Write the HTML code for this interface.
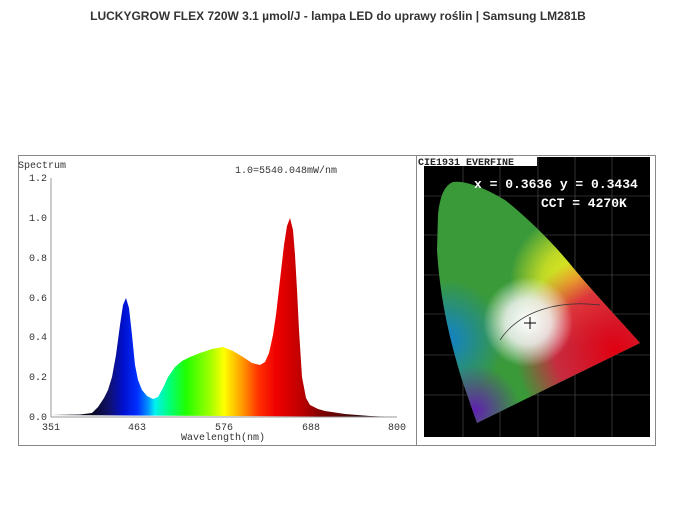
<!DOCTYPE html>
<html><head><meta charset="utf-8"><style>
body{margin:0;width:676px;height:524px;background:#fff;overflow:hidden;font-family:"Liberation Sans",sans-serif}
.t{position:absolute;top:9px;left:0;width:676px;text-align:center;font-size:12px;font-weight:bold;color:#333}
</style></head><body>
<div class="t">LUCKYGROW FLEX 720W 3.1 µmol/J - lampa LED do uprawy roślin | Samsung LM281B</div>
<svg width="676" height="524" style="position:absolute;left:0;top:0" font-family="Liberation Mono, monospace">
<defs>
<linearGradient id="sp" gradientUnits="userSpaceOnUse" x1="51" x2="397" y1="0" y2="0">
<stop offset="0" stop-color="#000"/>
<stop offset="0.12" stop-color="#080820"/>
<stop offset="0.17" stop-color="#101070"/>
<stop offset="0.21" stop-color="#0010d0"/>
<stop offset="0.25" stop-color="#0030ff"/>
<stop offset="0.28" stop-color="#0090ff"/>
<stop offset="0.3" stop-color="#00f0f0"/>
<stop offset="0.34" stop-color="#00ff80"/>
<stop offset="0.39" stop-color="#20ff00"/>
<stop offset="0.46" stop-color="#a0ff00"/>
<stop offset="0.5" stop-color="#ffff00"/>
<stop offset="0.55" stop-color="#ffa000"/>
<stop offset="0.6" stop-color="#ff3000"/>
<stop offset="0.65" stop-color="#f00000"/>
<stop offset="0.72" stop-color="#c00000"/>
<stop offset="0.78" stop-color="#800000"/>
<stop offset="0.9" stop-color="#301010"/>
<stop offset="1" stop-color="#000"/>
</linearGradient>
<clipPath id="hs"><path d="M453,182 C445,185 440,195 438,215 L437,250 C440,300 450,340 462,380 L477,423 L640,343 C620,320 600,300 575,270 C555,245 530,220 505,200 C485,188 465,180 453,182Z"/></clipPath>
<radialGradient id="wh" cx="528" cy="322" r="45" gradientUnits="userSpaceOnUse"><stop offset="0" stop-color="#fff"/><stop offset="0.5" stop-color="#f4f4f4" stop-opacity="0.85"/><stop offset="1" stop-color="#fff" stop-opacity="0"/></radialGradient>
<radialGradient id="rd" cx="615" cy="350" r="100" gradientUnits="userSpaceOnUse"><stop offset="0" stop-color="#e00010"/><stop offset="0.6" stop-color="#e01840" stop-opacity="0.85"/><stop offset="1" stop-color="#e02040" stop-opacity="0"/></radialGradient>
<radialGradient id="yl" cx="575" cy="280" r="65" gradientUnits="userSpaceOnUse"><stop offset="0" stop-color="#f0f020"/><stop offset="0.5" stop-color="#e0e820" stop-opacity="0.8"/><stop offset="1" stop-color="#f0f020" stop-opacity="0"/></radialGradient>
<radialGradient id="bl" cx="445" cy="340" r="60" gradientUnits="userSpaceOnUse"><stop offset="0" stop-color="#1080d0"/><stop offset="1" stop-color="#1080d0" stop-opacity="0"/></radialGradient>
<radialGradient id="pu" cx="475" cy="410" r="45" gradientUnits="userSpaceOnUse"><stop offset="0" stop-color="#6020b0"/><stop offset="1" stop-color="#6020b0" stop-opacity="0"/></radialGradient>
</defs>
<rect x="18.5" y="155.5" width="398" height="290" fill="#fff" stroke="#888"/>
<path d="M51,415 L80,414.5 L92,413 L98,407 L104,398 L108,390 L112,377 L116,355 L120,325 L123,305 L126,298 L129,308 L132,335 L135,365 L138,380 L142,390 L147,396 L153,399 L158,397 L163,388 L168,377 L175,367 L182,361 L190,357 L200,353 L212,349 L223,347 L233,351 L243,357 L252,363 L260,365 L265,362 L269,353 L273,335 L276,315 L280,280 L284,245 L287,226 L290,218 L293,230 L295,255 L297,290 L299,330 L302,377 L306,398 L310,405 L318,409 L325,411 L345,414 L370,416 L397,417 Z" fill="url(#sp)"/>
<line x1="51" y1="178" x2="51" y2="417" stroke="#999"/>
<line x1="51" y1="417" x2="397" y2="417" stroke="#999"/>
<g font-size="10" fill="#333">
<text x="18" y="168">Spectrum</text>
<text x="235" y="173">1.0=5540.048mW/nm</text>
<g text-anchor="end"><text x="47" y="181">1.2</text><text x="47" y="221">1.0</text><text x="47" y="261">0.8</text><text x="47" y="301">0.6</text><text x="47" y="340">0.4</text><text x="47" y="380">0.2</text><text x="47" y="420">0.0</text></g>
<g text-anchor="middle"><text x="51" y="430">351</text><text x="137" y="430">463</text><text x="224" y="430">576</text><text x="311" y="430">688</text><text x="397" y="430">800</text>
<text x="223" y="440" font-size="10">Wavelength(nm)</text></g>
</g>
<rect x="416.5" y="155.5" width="239" height="290" fill="#fff" stroke="#888"/>
<rect x="424" y="157" width="226" height="280" fill="#000"/>
<g stroke="#555" stroke-width="0.6">
<line x1="424" y1="196" x2="650" y2="196"/><line x1="424" y1="235" x2="650" y2="235"/><line x1="424" y1="275" x2="650" y2="275"/><line x1="424" y1="314" x2="650" y2="314"/><line x1="424" y1="355" x2="650" y2="355"/><line x1="424" y1="395" x2="650" y2="395"/>
<line x1="463" y1="157" x2="463" y2="437"/><line x1="500" y1="157" x2="500" y2="437"/><line x1="538" y1="157" x2="538" y2="437"/><line x1="575" y1="157" x2="575" y2="437"/><line x1="612" y1="157" x2="612" y2="437"/>
</g>
<g clip-path="url(#hs)">
<rect x="430" y="170" width="220" height="260" fill="#3a9a3a"/>
<rect x="430" y="170" width="220" height="260" fill="url(#yl)"/>
<rect x="430" y="170" width="220" height="260" fill="url(#bl)"/>
<rect x="430" y="170" width="220" height="260" fill="url(#pu)"/>
<rect x="430" y="170" width="220" height="260" fill="url(#rd)"/>
<rect x="430" y="170" width="220" height="260" fill="url(#wh)"/>
</g>
<path d="M500,340 C520,310 560,300 600,305" fill="none" stroke="#333" stroke-width="0.7"/>
<path d="M524,323 h12 M530,317 v12" stroke="#000" stroke-width="1"/>
<rect x="417" y="156" width="120" height="10" fill="#fff"/>
<text x="418" y="165" font-size="10" font-weight="bold" fill="#222">CIE1931 EVERFINE</text>
<g fill="#fff" font-size="13" font-weight="bold"><text x="474" y="188">x = 0.3636 y = 0.3434</text><text x="541" y="207">CCT = 4270K</text></g>
</svg>
</body></html>
